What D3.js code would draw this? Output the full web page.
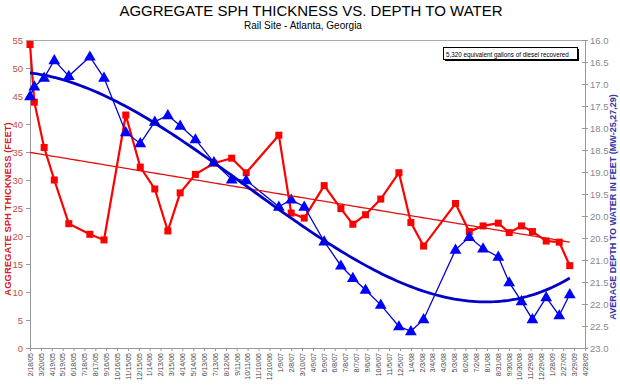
<!DOCTYPE html>
<html>
<head>
<meta charset="utf-8">
<script src="https://cdn.jsdelivr.net/npm/d3@7"></script>
<style>
body { margin: 0; background: #fff; }
svg { font-family: "Liberation Sans", Arial, sans-serif; }
</style>
</head>
<body>
<svg id="chart" width="620" height="385"></svg>
<script>
// sample dates
const sampleDates = ['2/18/05','3/2/05','3/29/05','4/26/05','6/5/05','8/2/05','9/10/05','11/9/05','12/19/05','1/28/06',
    '3/5/06','4/8/06','5/20/06','7/10/06','8/28/06','10/7/06','1/5/07','2/8/07','3/16/07','5/10/07',
    '6/25/07','7/28/07','9/1/07','10/13/07','12/2/07','1/4/08','2/8/08','5/6/08','6/13/08','7/21/08',
    '9/1/08','10/1/08','11/4/08','12/4/08','1/11/09','2/16/09','3/17/09'];
// aggregate SPH thickness, feet (left axis)
const sphThickness = [54.2, 43.9, 35.8, 30.0, 22.2, 20.3, 19.3, 41.6, 32.3, 28.4,
    20.9, 27.7, 31.0, 33.0, 33.9, 31.3, 38.0, 24.1, 23.2, 29.0,
    24.9, 22.1, 23.8, 26.6, 31.3, 22.4, 18.2, 25.8, 20.8, 21.8,
    22.3, 20.6, 21.8, 20.8, 19.1, 18.9, 14.7];
// average depth to water, feet (right axis)
const depthToWater = [17.28, 17.06, 16.86, 16.46, 16.82, 16.38, 16.86, 18.10, 18.35, 17.86,
    17.71, 17.95, 18.26, 18.78, 19.17, 19.19, 19.79, 19.63, 19.79, 20.58,
    21.13, 21.41, 21.68, 22.02, 22.51, 22.62, 22.35, 20.77, 20.48, 20.74,
    20.93, 21.51, 21.94, 22.35, 21.85, 22.26, 21.78];
const xTickLabels = ['2/18/05','3/20/05','4/19/05','5/19/05','6/18/05','7/18/05','8/17/05','9/16/05','10/16/05','11/15/05',
    '12/15/05','1/14/06','2/13/06','3/15/06','4/14/06','5/14/06','6/13/06','7/13/06','8/12/06','9/11/06',
    '10/11/06','11/10/06','12/10/06','1/9/07','2/8/07','3/10/07','4/9/07','5/9/07','6/8/07','7/8/07',
    '8/7/07','9/6/07','10/6/07','11/5/07','12/5/07','1/4/08','2/3/08','3/4/08','4/3/08','5/3/08',
    '6/2/08','7/2/08','8/1/08','8/31/08','9/30/08','10/30/08','11/29/08','12/29/08','1/28/09','2/27/09',
    '3/29/09','4/28/09'];
const leftTicks = [0, 5, 10, 15, 20, 25, 30, 35, 40, 45, 50, 55];
const rightTicks = [16, 16.5, 17, 17.5, 18, 18.5, 19, 19.5, 20, 20.5, 21, 21.5, 22, 22.5, 23];

const parseDate = d3.timeParse('%m/%d/%y');
const svg = d3.select('#chart');
const plotLeft = 30, plotRight = 585, plotTop = 40, plotBottom = 348;

const x = d3.scaleTime()
    .domain([parseDate(xTickLabels[0]), parseDate(xTickLabels[xTickLabels.length - 1])])
    .range([plotLeft, plotRight]);
const yLeft = d3.scaleLinear().domain([0, 55]).range([plotBottom, plotTop]);
const yRight = d3.scaleLinear().domain([16, 23]).range([plotTop, plotBottom]);

var points = sampleDates.map(function(d, i) {
    return { date: parseDate(d), sph: sphThickness[i], dtw: depthToWater[i] };
});

//Titles
svg.append('text').attr('x', 311).attr('y', 16).attr('text-anchor', 'middle')
    .style('font-size', '15px').text('AGGREGATE SPH THICKNESS VS. DEPTH TO WATER');
svg.append('text').attr('x', 303).attr('y', 29).attr('text-anchor', 'middle')
    .style('font-size', '10px').text('Rail Site - Atlanta, Georgia');

//Top border of plot area
svg.append('line').attr('x1', plotLeft).attr('x2', plotRight).attr('y1', plotTop + 0.5).attr('y2', plotTop + 0.5)
    .attr('stroke', '#aaa');

//Axes
const xAxis = d3.axisBottom(x)
    .tickValues(xTickLabels.map(parseDate))
    .tickSize(3)
    .tickFormat(function(d, i) { return xTickLabels[i]; });
const gx = svg.append('g').attr('transform', 'translate(0,' + plotBottom + ')').call(xAxis);
gx.selectAll('text')
    .attr('transform', 'rotate(-90)')
    .attr('text-anchor', 'end')
    .attr('x', -5).attr('y', 0).attr('dy', '0.32em')
    .style('font-size', '7px').style('fill', '#444');

const gl = svg.append('g').attr('transform', 'translate(' + plotLeft + ',0)')
    .call(d3.axisLeft(yLeft).tickValues(leftTicks).tickSize(4));
gl.selectAll('text').style('font-size', '9.5px').style('fill', '#c0504d');

const gr = svg.append('g').attr('transform', 'translate(' + plotRight + ',0)')
    .call(d3.axisRight(yRight).tickValues(rightTicks).tickSize(3).tickFormat(d3.format('.1f')));
gr.selectAll('.tick line').attr('x1', -3);
gr.selectAll('text').attr('x', 5).style('font-size', '9.5px').style('fill', '#888');

[gx, gl, gr].forEach(function(g) {
    g.select('.domain').attr('stroke', '#999');
    g.selectAll('.tick line').attr('stroke', '#999');
});

//Axis titles
svg.append('text').attr('transform', 'translate(11,' + 209 + ') rotate(-90)')
    .attr('text-anchor', 'middle').style('font-size', '9.5px').style('font-weight', 'bold')
    .style('fill', '#d42020').text('AGGREGATE SPH THICKNESS (FEET)');
svg.append('text').attr('transform', 'translate(616,' + 207 + ') rotate(-90)')
    .attr('text-anchor', 'middle').style('font-size', '9px').style('font-weight', 'bold')
    .style('fill', '#3636a8').text('AVERAGE DEPTH TO WATER IN FEET (MW-25,27,29)');

//Note box
svg.append('rect').attr('x', 445).attr('y', 49).attr('width', 134).attr('height', 12).attr('fill', '#000');
svg.append('rect').attr('x', 443.5).attr('y', 47.5).attr('width', 134).attr('height', 12)
    .attr('fill', '#fff').attr('stroke', '#000');
svg.append('text').attr('x', 446).attr('y', 56.5).style('font-size', '6.3px')
    .text('5,320 equivalent gallons of diesel recovered');

//Least squares polynomial trends (time in thousands of days from first sample)
const t0 = points[0].date;
function days(d) { return (d - t0) / 864e5; }
function polyFit(xs, ys, order) {
    var n = order + 1, m = [];
    for (var r = 0; r < n; r++) {
        m.push([]);
        for (var c = 0; c <= n; c++) m[r].push(0);
    }
    xs.forEach(function(xv, i) {
        var t = xv / 1000;
        for (var r = 0; r < n; r++) {
            for (var c = 0; c < n; c++) m[r][c] += Math.pow(t, r + c);
            m[r][n] += ys[i] * Math.pow(t, r);
        }
    });
    for (var c = 0; c < n; c++) {
        for (var j = c + 1; j < n; j++) {
            var f = m[j][c] / m[c][c];
            for (var k = c; k <= n; k++) m[j][k] -= f * m[c][k];
        }
    }
    var co = [];
    for (var c = n - 1; c >= 0; c--) {
        var v = m[c][n];
        for (var k = c + 1; k < n; k++) v -= m[c][k] * co[k];
        co[c] = v / m[c][c];
    }
    return function(t) {
        t = t / 1000;
        return co.reduce(function(s, a, k) { return s + a * Math.pow(t, k); }, 0);
    };
}
const tx = points.map(function(p) { return days(p.date); });
const sphTrend = polyFit(tx, sphThickness, 1);
const dtwTrend = polyFit(tx, depthToWater, 3);
const lastDay = tx[tx.length - 1];
const trendDays = d3.range(0, lastDay + 1, 10).concat([lastDay]);
function dayToDate(t) { return new Date(t0.getTime() + t * 864e5); }

//Red series
svg.append('path').datum(points)
    .attr('fill', 'none').attr('stroke', '#ff0000').attr('stroke-width', 2.2)
    .attr('d', d3.line().x(function(d) { return x(d.date); }).y(function(d) { return yLeft(d.sph); }));
svg.selectAll('rect.sph').data(points).enter().append('rect').attr('class', 'sph')
    .attr('x', function(d) { return x(d.date) - 3.5; })
    .attr('y', function(d) { return yLeft(d.sph) - 3.5; })
    .attr('width', 7).attr('height', 7).attr('fill', '#ff0000');

//Blue series
svg.append('path').datum(points)
    .attr('fill', 'none').attr('stroke', '#0000d0').attr('stroke-width', 1.3)
    .attr('d', d3.line().x(function(d) { return x(d.date); }).y(function(d) { return yRight(d.dtw); }));
svg.selectAll('path.dtw').data(points).enter().append('path').attr('class', 'dtw')
    .attr('transform', function(d) { return 'translate(' + x(d.date) + ',' + (yRight(d.dtw) + 0.5) + ')'; })
    .attr('d', d3.symbol().type(d3.symbolTriangle).size(60))
    .attr('fill', '#0000ff');

//Trend lines
svg.append('path').datum(trendDays)
    .attr('fill', 'none').attr('stroke', '#e01010').attr('stroke-width', 1.3)
    .attr('d', d3.line().x(function(t) { return x(dayToDate(t)); })
        .y(function(t) { return yLeft(sphTrend(t)); }));
svg.append('path').datum(trendDays)
    .attr('fill', 'none').attr('stroke', '#0000c8').attr('stroke-width', 2.8)
    .attr('d', d3.line().x(function(t) { return x(dayToDate(t)); })
        .y(function(t) { return yRight(dtwTrend(t)); }));
</script>
</body>
</html>
